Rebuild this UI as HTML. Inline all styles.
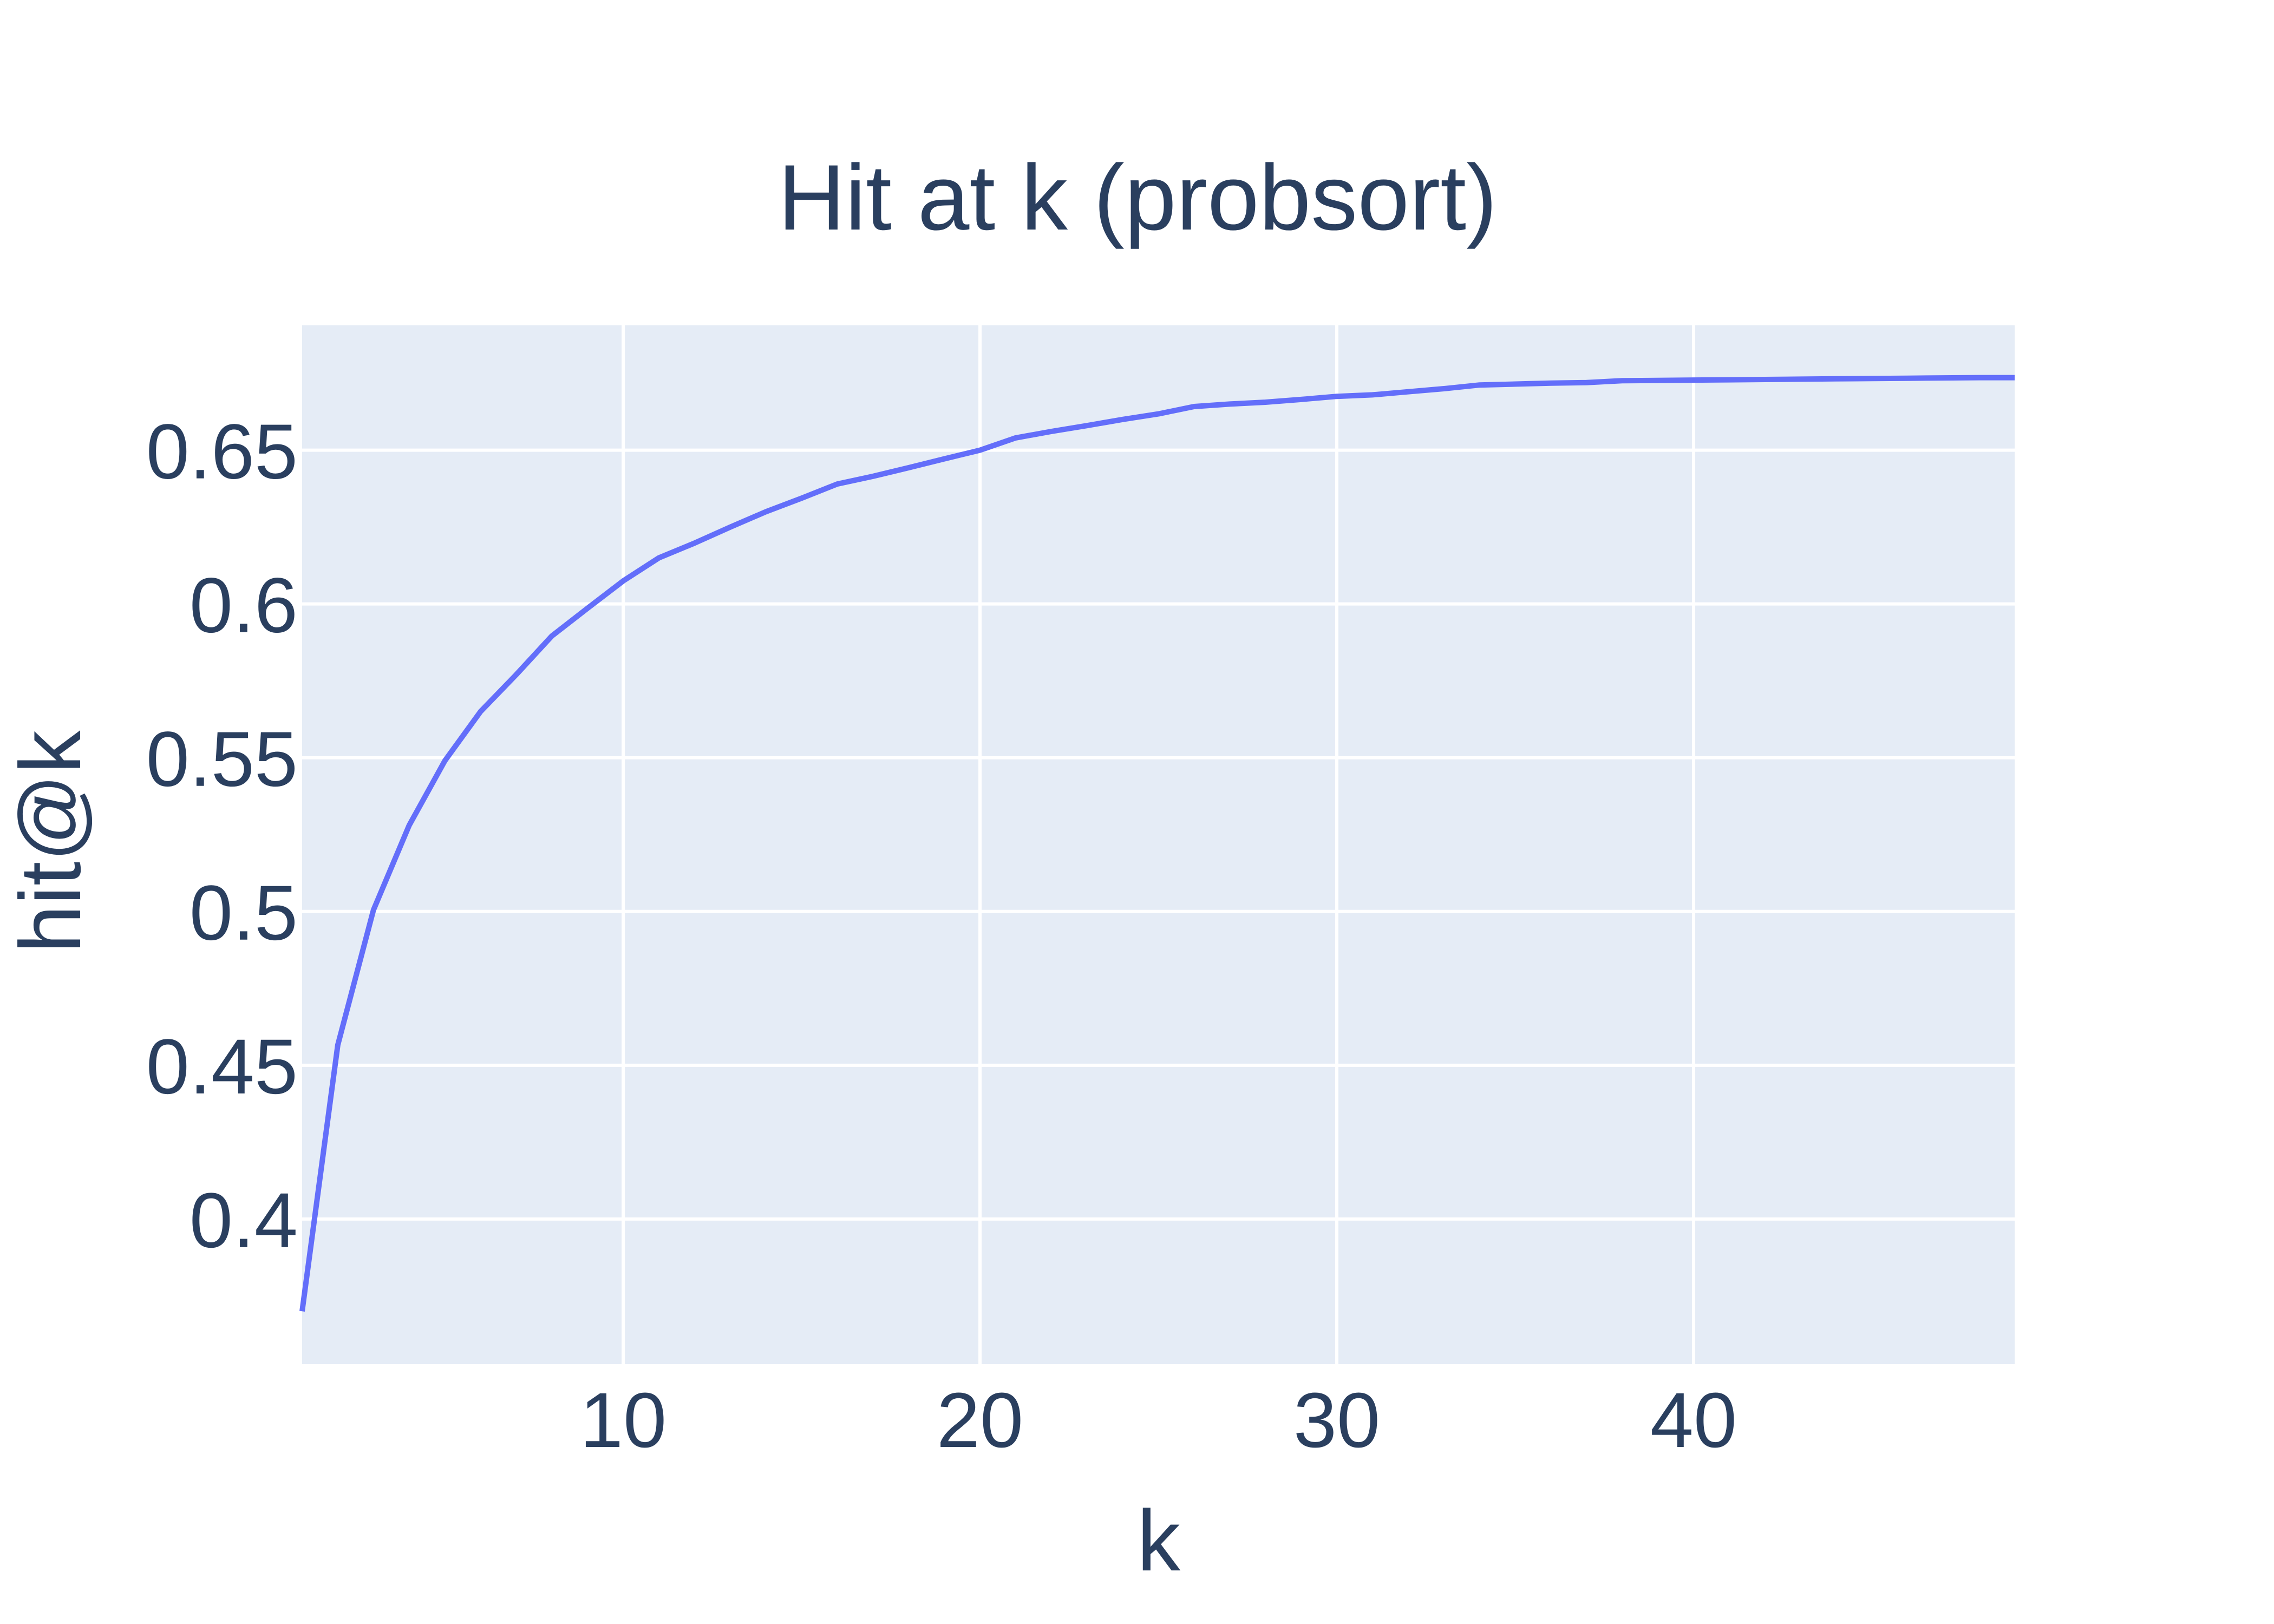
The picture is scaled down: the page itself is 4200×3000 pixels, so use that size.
<!DOCTYPE html>
<html><head><meta charset="utf-8"><style>
html,body{margin:0;padding:0;background:#fff;}
svg{display:block;font-family:"Liberation Sans",sans-serif;}
</style></head><body>
<svg id="chart" width="4200" height="3000" viewBox="0 0 4200 3000" xmlns="http://www.w3.org/2000/svg">
<rect x="0" y="0" width="4200" height="3000" fill="#ffffff"/>
<rect x="558" y="601" width="3163" height="1919" fill="#e5ecf6"/>
<g id="grid"></g>
<g id="ticks"></g>
<path id="line" fill="none" stroke="#636efa" stroke-width="10" stroke-linejoin="round"/>
<text x="2101" y="424" font-size="172" fill="#2a3f5f" text-anchor="middle">Hit at k (probsort)</text>
<text x="2140" y="2901" font-size="160" fill="#2a3f5f" text-anchor="middle">k</text>
<text transform="translate(148,1555) rotate(-90)" font-size="160" fill="#2a3f5f" text-anchor="middle">hit@k</text>
</svg>
<script>
const kValues = [1,2,3,4,5,6,7,8,9,10,11,12,13,14,15,16,17,18,19,20,21,22,23,24,25,26,27,28,29,30,31,32,33,34,35,36,37,38,39,40,41,42,43,44,45,46,47,48,49];
const hitValues = [0.370,0.4566,0.5005,0.528,0.549,0.565,0.577,0.5896,0.5986,0.6075,0.615,0.6198,0.625,0.630,0.6344,0.639,0.6415,0.6443,0.6472,0.650,0.654,0.6561,0.658,0.660,0.6618,0.6642,0.665,0.6656,0.6665,0.6675,0.668,0.669,0.670,0.6712,0.6715,0.6718,0.672,0.6726,0.6727,0.6728,0.6729,0.673,0.6731,0.6732,0.6733,0.6734,0.6735,0.6736,0.6736];
const xTicks = [10,20,30,40];
const yTicks = [0.4,0.45,0.5,0.55,0.6,0.65];
const yTickLabels = ["0.4","0.45","0.5","0.55","0.6","0.65"];
const X0=558,X1=3721,Y0=601,Y1=2520;
const xMin=1,xMax=49,yMin=0.3528,yMax=0.6906;
const xs=v=>X0+(v-xMin)/(xMax-xMin)*(X1-X0);
const ys=v=>Y1-(v-yMin)/(yMax-yMin)*(Y1-Y0);
const NS="http://www.w3.org/2000/svg";
const grid=document.getElementById('grid'), ticks=document.getElementById('ticks');
xTicks.forEach(t=>{
  const l=document.createElementNS(NS,'line');
  
  
  l.setAttribute('x1',xs(t));l.setAttribute('x2',xs(t));l.setAttribute('y1',Y0);l.setAttribute('y2',Y1);
  l.setAttribute('stroke','#fff');l.setAttribute('stroke-width','6');grid.appendChild(l);
  const tx=document.createElementNS(NS,'text');
  
  
  tx.setAttribute('x',xs(t));tx.setAttribute('y',2673);tx.setAttribute('font-size','144');
  tx.setAttribute('fill','#2a3f5f');tx.setAttribute('text-anchor','middle');tx.textContent=t;ticks.appendChild(tx);
});
yTicks.forEach((t,i)=>{
  const l=document.createElementNS(NS,'line');
  
  
  l.setAttribute('x1',X0);l.setAttribute('x2',X1);l.setAttribute('y1',ys(t));l.setAttribute('y2',ys(t));
  l.setAttribute('stroke','#fff');l.setAttribute('stroke-width','6');grid.appendChild(l);
  const tx=document.createElementNS(NS,'text');
  
  
  tx.setAttribute('x',550);tx.setAttribute('y',ys(t)+52);tx.setAttribute('font-size','144');
  tx.setAttribute('fill','#2a3f5f');tx.setAttribute('text-anchor','end');tx.textContent=yTickLabels[i];ticks.appendChild(tx);
});
document.getElementById('line').setAttribute('d',kValues.map((k,i)=>(i?'L':'M')+xs(k).toFixed(1)+','+ys(hitValues[i]).toFixed(1)).join(' '));
</script>
</body></html>
